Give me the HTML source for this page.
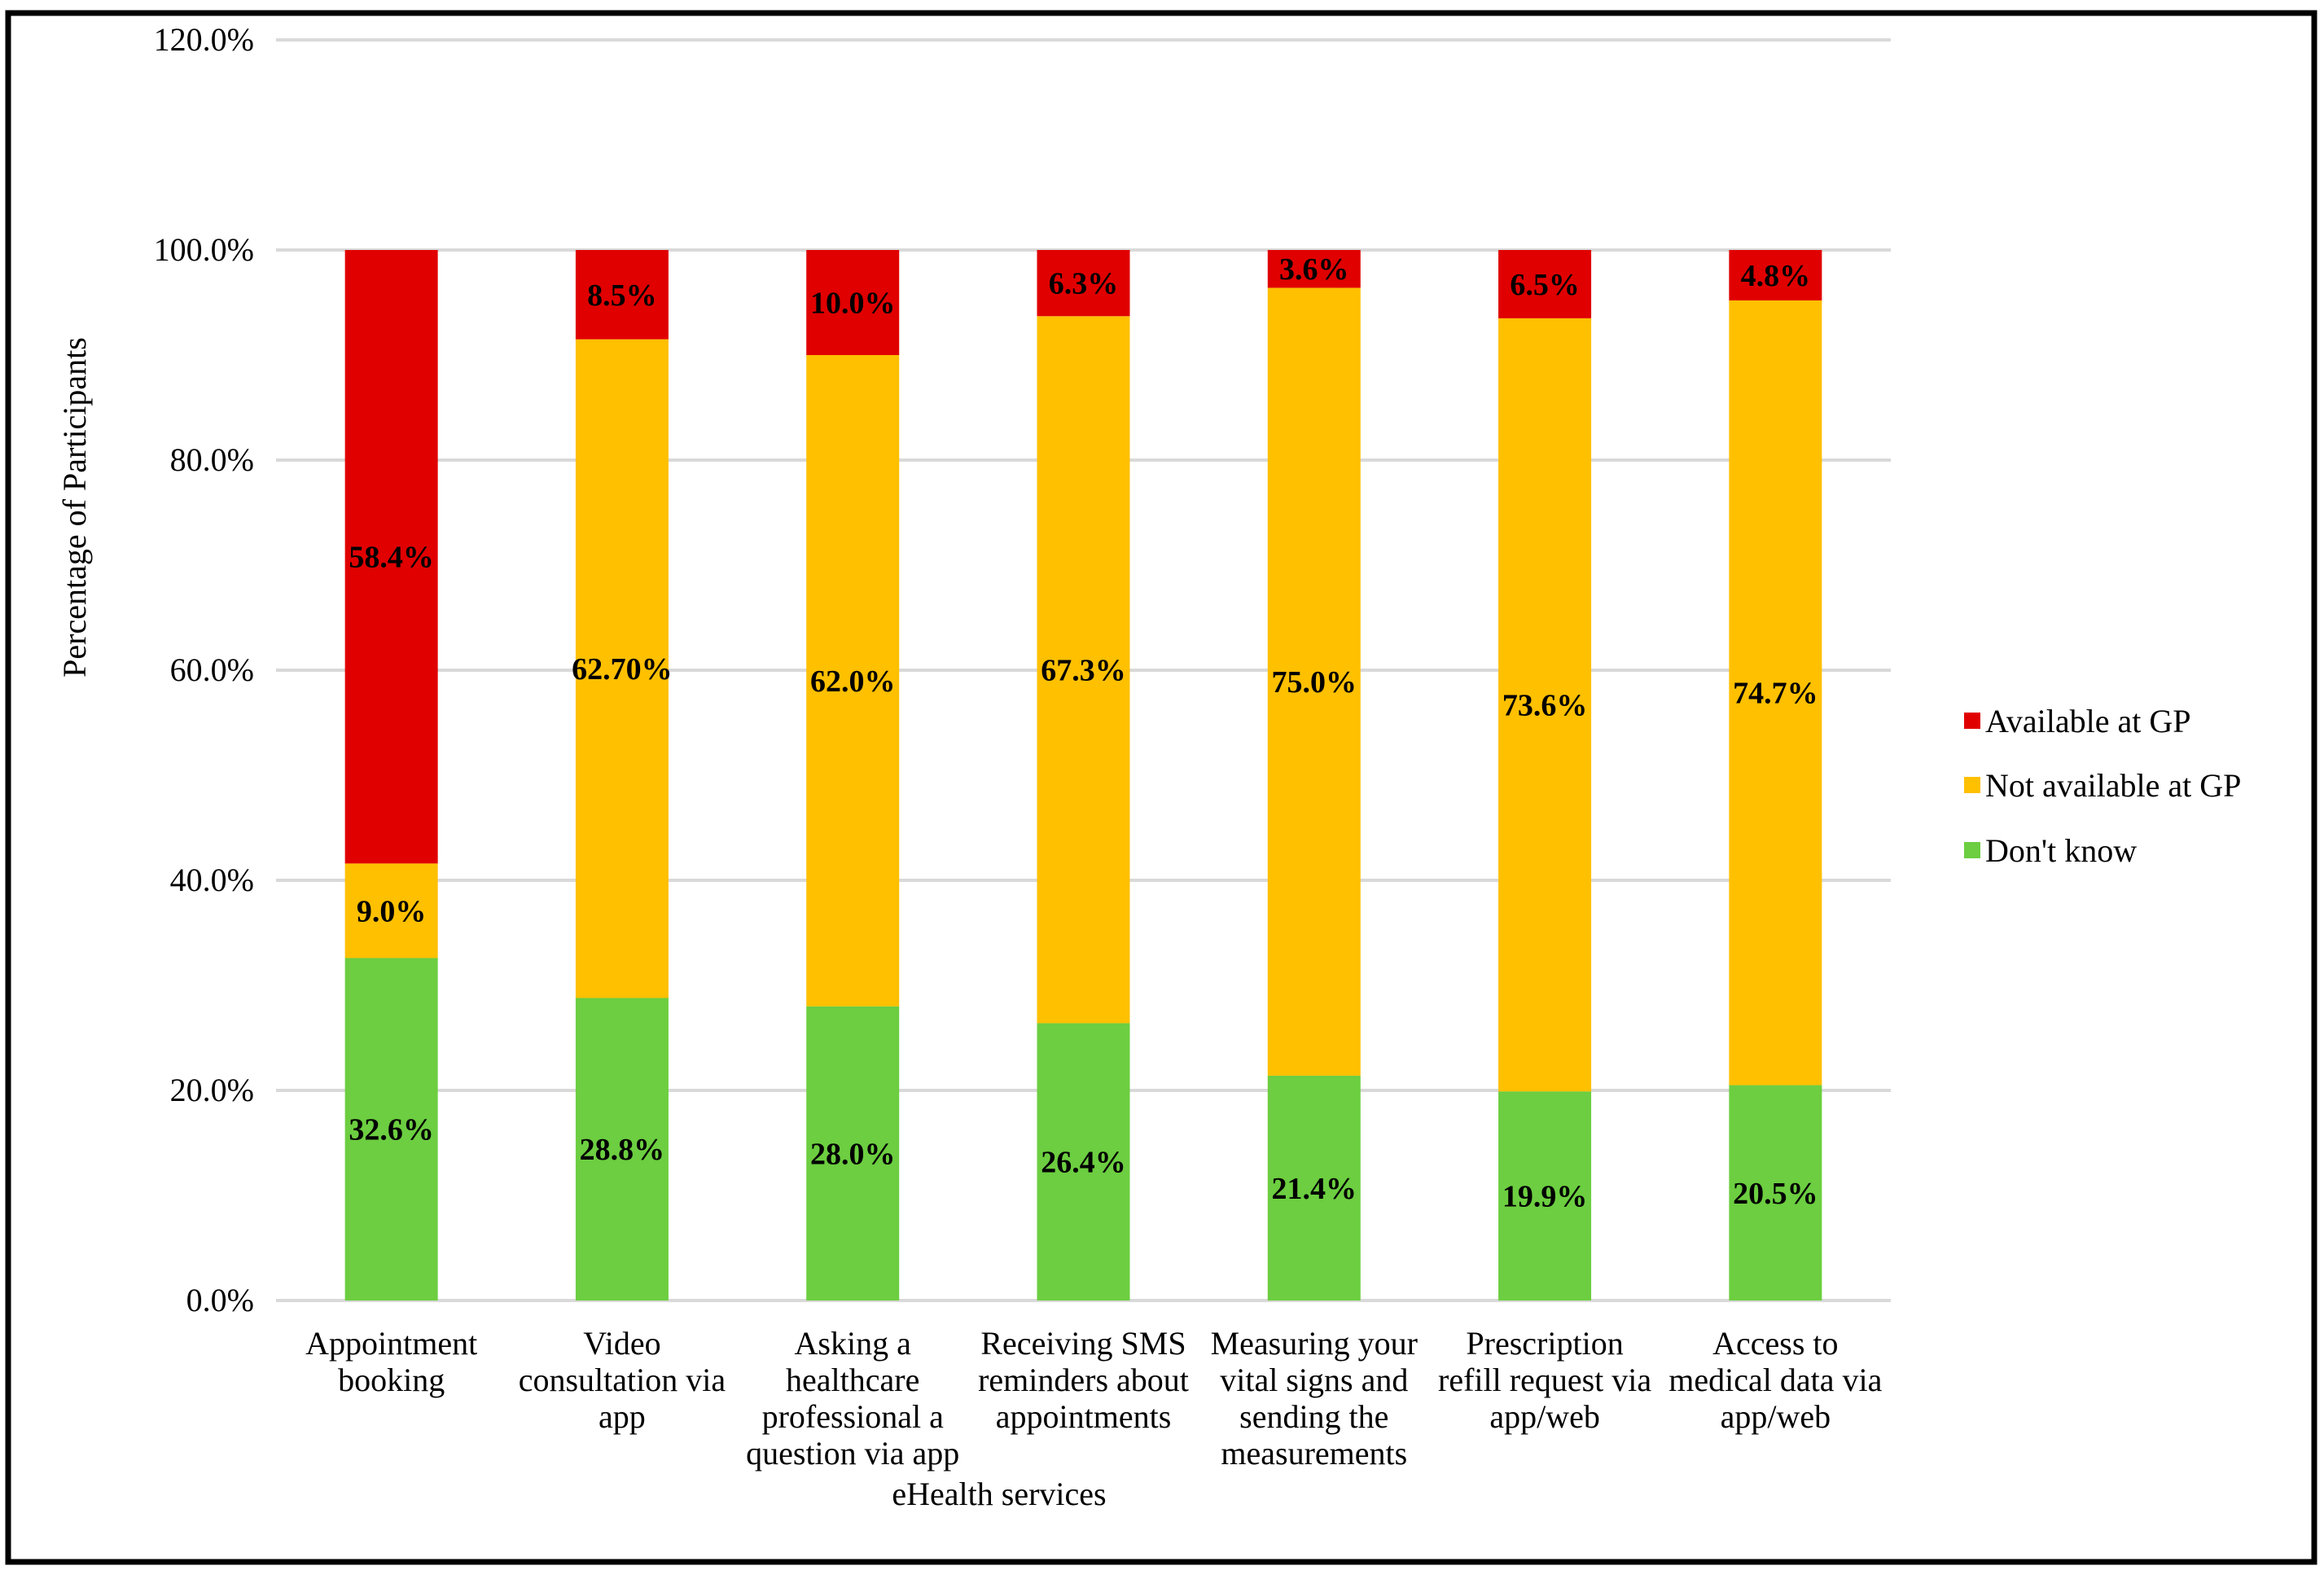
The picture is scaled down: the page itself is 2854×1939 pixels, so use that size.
<!DOCTYPE html>
<html><head><meta charset="utf-8"><style>
html,body{margin:0;padding:0;background:#fff;}
svg{display:block;font-family:"Liberation Serif",serif;}
</style></head><body>
<svg id="chart" width="2854" height="1939" viewBox="0 0 2854 1939" xmlns="http://www.w3.org/2000/svg">
<rect x="10" y="16" width="2832" height="1902" fill="#fff" stroke="#000" stroke-width="7"/>
<g id="grid"></g><g id="bars"></g><g id="labels"></g>
<text transform="translate(105,623) rotate(-90)" text-anchor="middle" font-size="40">Percentage of Participants</text>
<text x="1227" y="1848" text-anchor="middle" font-size="40">eHealth services</text>
<g>
<rect x="2412" y="875" width="20" height="20" fill="#E00000"/>
<text x="2438" y="899" font-size="40">Available at GP</text>
<rect x="2412" y="954" width="20" height="20" fill="#FFC000"/>
<text x="2438" y="978" font-size="40">Not available at GP</text>
<rect x="2412" y="1034" width="20" height="20" fill="#6CCE40"/>
<text x="2438" y="1058" font-size="40">Don't know</text>
</g>
</svg>
<script>
const categories=[["Appointment","booking"],["Video","consultation via","app"],["Asking a","healthcare","professional a","question via app"],["Receiving SMS","reminders about","appointments"],["Measuring your","vital signs and","sending the","measurements"],["Prescription","refill request via","app/web"],["Access to","medical data via","app/web"]];
const dontKnow=[32.6,28.8,28.0,26.4,21.4,19.9,20.5];
const notAvailable=[9.0,62.7,62.0,67.3,75.0,73.6,74.7];
const available=[58.4,8.5,10.0,6.3,3.6,6.5,4.8];
const dontKnowLabels=["32.6%","28.8%","28.0%","26.4%","21.4%","19.9%","20.5%"];
const notAvailableLabels=["9.0%","62.70%","62.0%","67.3%","75.0%","73.6%","74.7%"];
const availableLabels=["58.4%","8.5%","10.0%","6.3%","3.6%","6.5%","4.8%"];
const yTicks=[0,20,40,60,80,100,120];
const yTickLabels=["0.0%","20.0%","40.0%","60.0%","80.0%","100.0%","120.0%"];

const NS="http://www.w3.org/2000/svg";
const x0=339,x1=2322,yBase=1597,yTop=49,yMax=120;
const y=v=>yBase-(v/yMax)*(yBase-yTop);
const band=(x1-x0)/categories.length;
const xc=i=>x0+band*(i+0.5);
const bw=114;
function mk(tag,attrs,parent){const e=document.createElementNS(NS,tag);for(const k in attrs)e.setAttribute(k,attrs[k]);parent.appendChild(e);return e;}
const grid=document.getElementById('grid'),bars=document.getElementById('bars'),labels=document.getElementById('labels');
yTicks.forEach((t,i)=>{
  const l=mk('line',{x1:x0,x2:x1,y1:y(t),y2:y(t),stroke:'#D9D9D9','stroke-width':4},grid);
  
  
  const tx=mk('text',{x:312,y:y(t)+13,'text-anchor':'end','font-size':40},grid);
  tx.textContent=yTickLabels[i];
  
  
});
const series=[[dontKnow,'#6CCE40',dontKnowLabels,'dont-know'],[notAvailable,'#FFC000',notAvailableLabels,'not-available'],[available,'#E00000',availableLabels,'available']];
categories.forEach((c,i)=>{
  let cum=0;
  series.forEach(([vals,col,labs,nm])=>{
    const v=vals[i];
    const r=mk('rect',{x:xc(i)-bw/2,y:y(cum+v),width:bw,height:y(cum)-y(cum+v),fill:col},bars);
    
    
    const t=mk('text',{x:xc(i),y:(y(cum)+y(cum+v))/2+13,'text-anchor':'middle','font-size':38,'font-weight':'bold'},labels);
    t.textContent=labs[i];
    
    
    cum+=v;
  });
  c.forEach((line,j)=>{
    const t=mk('text',{x:xc(i),y:1663+j*45,'text-anchor':'middle','font-size':40},labels);
    t.textContent=line;
    
    
  });
});
</script>
</body></html>
